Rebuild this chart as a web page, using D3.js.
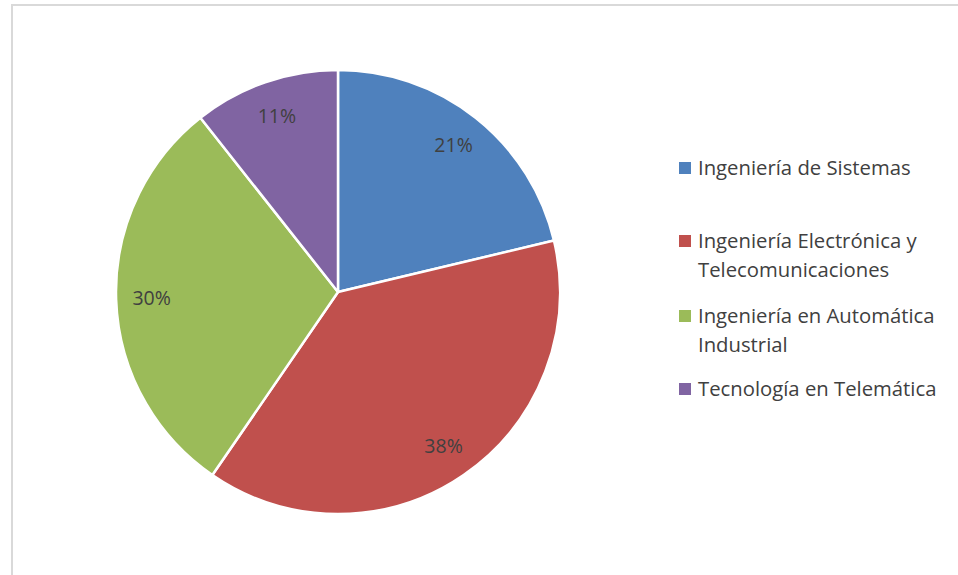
<!DOCTYPE html>
<html><head><meta charset="utf-8">
<script src="https://cdn.jsdelivr.net/npm/d3@7"></script>
<style>body{margin:0;background:#fff}svg{display:block}</style>
</head><body>
<svg id="c" width="958" height="575"></svg>
<script>
const categories = ["Ingeniería de Sistemas", "Ingeniería Electrónica y Telecomunicaciones", "Ingeniería en Automática Industrial", "Tecnología en Telemática"];
const legendLines = [["Ingeniería de Sistemas"], ["Ingeniería Electrónica y", "Telecomunicaciones"], ["Ingeniería en Automática", "Industrial"], ["Tecnología en Telemática"]];
const values = [10, 18, 14, 5];
const colors = ["#4F81BD", "#C0504D", "#9BBB59", "#8064A2"];

const svg = d3.select("#c");
svg.append("rect").attr("x", 12).attr("y", 5).attr("width", 960).attr("height", 600)
  .attr("fill", "#fff").attr("stroke", "#d9d9d9").attr("stroke-width", 2);

const cx = 338, cy = 292, R = 222;
const pie = d3.pie().sort(null).value(d => d)(values);
const arc = d3.arc().innerRadius(0).outerRadius(R);
const labelArc = d3.arc().innerRadius(R * 0.84).outerRadius(R * 0.84);
const g = svg.append("g").attr("transform", `translate(${cx},${cy})`);
g.selectAll("path").data(pie).join("path")
  .attr("d", arc).attr("fill", (d, i) => colors[i])
  .attr("stroke", "#fff").attr("stroke-width", 2.5).attr("stroke-linejoin", "round");
const total = d3.sum(values);
g.selectAll("text").data(pie).join("text")
  .attr("transform", d => `translate(${labelArc.centroid(d)})`)
  .attr("text-anchor", "middle").attr("dy", "0.35em")
  .attr("font-family", "Open Sans").attr("font-size", 19.5).attr("fill", "#404040")
  .text(d => Math.round(d.data / total * 100) + "%");

const rowY = [168, 241, 316, 389];
const lg = svg.append("g");
legendLines.forEach((lines, i) => {
  lg.append("rect").attr("x", 679).attr("y", rowY[i] - 6).attr("width", 12).attr("height", 12).attr("fill", colors[i]);
  lines.forEach((t, j) => {
    lg.append("text").attr("x", 698).attr("y", rowY[i] + j * 29).attr("dy", "0.35em")
      .attr("font-family", "Open Sans").attr("font-size", 20.3).attr("fill", "#404040").text(t);
  });
});
</script>
</body></html>
